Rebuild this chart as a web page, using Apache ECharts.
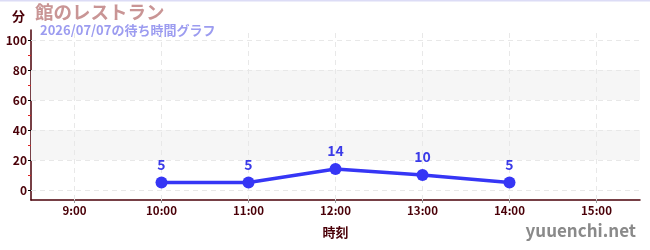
<!DOCTYPE html>
<html><head><meta charset="utf-8">
<script src="https://cdn.jsdelivr.net/npm/echarts@6/dist/echarts.min.js"></script>
<style>html,body{margin:0;padding:0;background:#fff}#c{width:650px;height:250px}</style>
</head><body><div id="c"></div>
<script>
const hours = [10, 11, 12, 13, 14];
const waits = [5, 5, 14, 10, 5];
const xTicks = [9, 10, 11, 12, 13, 14, 15];
const yTicks = [0, 20, 40, 60, 80, 100];
const yMinorTicks = [10, 30, 50, 70, 90];
const bands = [[20, 40], [60, 80]];
const titleText = '館のレストラン';
const subText = '2026/07/07の待ち時間グラフ';

const FONT = '"Noto Sans CJK JP", "Noto Sans", sans-serif';
const AX = '#4a0008';
const YMIN = -20 / 3, YMAX = 320 / 3;

const chart = echarts.init(document.getElementById('c'), null, {renderer: 'canvas'});
const yBase = {type: 'value', min: YMIN, max: YMAX, position: 'left', splitLine: {show: false}};
chart.setOption({
  animation: false,
  textStyle: {fontFamily: FONT},
  grid: {left: 31, right: 10, top: 30, bottom: 50, containLabel: false},
  graphic: [
    {type: 'line', shape: {x1: 0, y1: 0.5, x2: 650, y2: 0.5}, style: {stroke: '#dcdcf6', lineWidth: 2}},
    {type: 'text', left: 12, top: 10, style: {text: '分', font: 'bold 13px ' + FONT, fill: AX}},
    {type: 'text', left: 35, top: 3, style: {text: titleText, font: 'bold 18.5px ' + FONT, fill: '#c99595'}},
    {type: 'text', left: 40, top: 24, style: {text: subText, font: 'bold 13px ' + FONT, fill: '#9c9cf0'}},
    {type: 'text', right: 14, top: 222, style: {text: 'yuuenchi.net', font: 'bold 17px ' + FONT, fill: '#8a8a8a'}}
  ],
  xAxis: {
    type: 'value', min: 8.5, max: 15.5,
    name: '時刻', nameLocation: 'middle', nameGap: 26,
    nameTextStyle: {color: AX, fontWeight: 'bold', fontSize: 13, fontFamily: FONT},
    axisLine: {onZero: false, lineStyle: {color: AX, width: 1.5}},
    axisTick: {show: true, customValues: xTicks, length: 3, lineStyle: {color: '#999'}},
    axisLabel: {customValues: xTicks, formatter: v => v + ':00', color: AX, fontWeight: 'bold', fontSize: 11.5, margin: 5, fontFamily: FONT},
    splitLine: {show: false}
  },
  yAxis: [
    Object.assign({}, yBase, {
      axisLine: {show: true, lineStyle: {color: AX, width: 1.5}},
      axisTick: {show: true, customValues: yTicks, length: 3, lineStyle: {color: '#000'}},
      axisLabel: {customValues: yTicks, color: AX, fontWeight: 'bold', fontSize: 12, margin: 4, fontFamily: FONT}
    }),
    Object.assign({}, yBase, {
      axisLine: {show: false},
      axisTick: {show: true, inside: true, customValues: yTicks, length: 2, lineStyle: {color: '#000'}},
      axisLabel: {show: false}
    }),
    Object.assign({}, yBase, {
      axisLine: {show: false},
      axisTick: {show: true, customValues: yMinorTicks, length: 3, lineStyle: {color: '#d22'}},
      axisLabel: {show: false}
    })
  ],
  series: [
    {
      type: 'line', silent: true, data: [],
      markArea: {silent: true, itemStyle: {color: '#f6f6f6'},
        data: bands.map(b => [{yAxis: b[0]}, {yAxis: b[1]}])},
      markLine: {silent: true, symbol: 'none', label: {show: false},
        lineStyle: {color: '#e8e8e8', type: [5, 4], width: 1},
        data: yTicks.map(v => ({yAxis: v})).concat(xTicks.map(v => ({xAxis: v})))}
    },
    {
      type: 'line', data: hours.map((h, i) => [h, waits[i]]),
      symbol: 'circle', symbolSize: 12,
      lineStyle: {color: '#3636f5', width: 3.5},
      itemStyle: {color: '#3636f5'},
      label: {show: true, position: 'top', distance: 5, color: '#3a3ae8', fontWeight: 'bold', fontSize: 14, fontFamily: FONT},
      z: 5
    }
  ]
});
</script>
</body></html>
